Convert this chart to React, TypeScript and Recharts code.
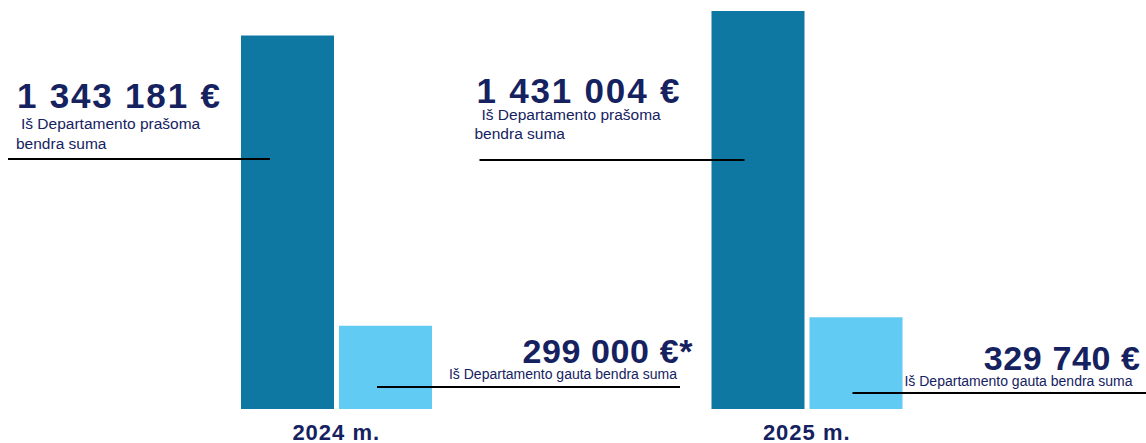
import React from "react";
import { BarChart, Bar, XAxis, YAxis, LabelList } from "recharts";

const categories = ["2024 m.", "2025 m."];
const requested = [1343181, 1431004];
const received = [299000, 329740];
const receivedMarks = ["*", ""];
const requestedCaption = ["Iš Departamento prašoma", "bendra suma"];
const receivedCaption = "Iš Departamento gauta bendra suma";

const data = categories.map((name, i) => ({
  name,
  requested: requested[i],
  received: received[i],
}));

const NAVY = "#15225F";
const DARK = "#0E78A3";
const LIGHT = "#62CBF3";
const FONT = "'Liberation Sans', Arial, sans-serif";

// annotation offsets, relative to bar left edge (x) and bar bottom (y)
const requestedLayout = [
  { textX: -224, bigY: -301, subY: [-280, -260], subX: [4, -1], line: [-233, 29], lineY: -250 },
  { textX: -235, bigY: -306, subY: [-289, -270], subX: [5, -2], line: [-232, 33], lineY: -249 },
];
const receivedLayout = [
  { bigRight: 354, bigY: -46, subRight: 338, subY: -30, line: [38, 341], lineY: -22 },
  { bigRight: 331, bigY: -39, subRight: 323, subY: -23, line: [43, 340], lineY: -16 },
];

const euro = (v: number) => v.toString().replace(/\B(?=(\d{3})+(?!\d))/g, " ") + " €";

function geom(props: any) {
  const vb = props.viewBox || {};
  const x = Number(vb.x ?? props.x);
  const y = Number(vb.y ?? props.y);
  const h = Number(vb.height ?? props.height);
  return { x, bottom: y + h };
}

function RequestedLabel(props: any) {
  const { x, bottom } = geom(props);
  const l = requestedLayout[props.index];
  if (!l) return null;
  return (
    <g fontFamily={FONT}>
      <text
        x={x + l.textX}
        y={bottom + l.bigY}
        fill={NAVY}
        fontSize={35}
        fontWeight={700}
        letterSpacing={1.8}
      >
        {euro(Number(props.value))}
      </text>
      {requestedCaption.map((t, i) => (
        <text key={t} x={x + l.textX + l.subX[i]} y={bottom + l.subY[i]} fill={NAVY} fontSize={15.5}>
          {t}
        </text>
      ))}
      <line
        x1={x + l.line[0]}
        x2={x + l.line[1]}
        y1={bottom + l.lineY}
        y2={bottom + l.lineY}
        stroke="#000"
        strokeWidth={2}
      />
    </g>
  );
}

function ReceivedLabel(props: any) {
  const { x, bottom } = geom(props);
  const l = receivedLayout[props.index];
  if (!l) return null;
  return (
    <g fontFamily={FONT}>
      <text
        x={x + l.bigRight}
        y={bottom + l.bigY}
        fill={NAVY}
        fontSize={34}
        fontWeight={700}
        letterSpacing={0.6}
        textAnchor="end"
      >
        {euro(Number(props.value)) + receivedMarks[props.index]}
      </text>
      <text x={x + l.subRight} y={bottom + l.subY} fill={NAVY} fontSize={14} textAnchor="end">
        {receivedCaption}
      </text>
      <line
        x1={x + l.line[0]}
        x2={x + l.line[1]}
        y1={bottom + l.lineY}
        y2={bottom + l.lineY}
        stroke="#000"
        strokeWidth={2}
      />
    </g>
  );
}

function YearTick(props: any) {
  const { x, y, payload } = props;
  return (
    <text
      x={x}
      y={y}
      dy={31}
      textAnchor="middle"
      fill={NAVY}
      fontSize={22}
      fontWeight={700}
      letterSpacing={1}
      fontFamily={FONT}
    >
      {payload.value}
    </text>
  );
}

export default function App() {
  return (
    <div style={{ width: 1146, height: 443 }}>
      <style>{`body{margin:0}`}</style>
      <BarChart
        width={1146}
        height={443}
        data={data}
        margin={{ top: 11, right: 104, bottom: 0, left: 101 }}
        barGap={5}
        barSize={93}
      >
        <XAxis
          dataKey="name"
          axisLine={false}
          tickLine={false}
          tickSize={0}
          tickMargin={0}
          height={34}
          tick={<YearTick />}
          interval={0}
        />
        <YAxis hide domain={[0, "dataMax"]} />
        <Bar dataKey="requested" fill={DARK} isAnimationActive={false}>
          <LabelList dataKey="requested" content={<RequestedLabel />} />
        </Bar>
        <Bar dataKey="received" fill={LIGHT} isAnimationActive={false}>
          <LabelList dataKey="received" content={<ReceivedLabel />} />
        </Bar>
      </BarChart>
    </div>
  );
}
